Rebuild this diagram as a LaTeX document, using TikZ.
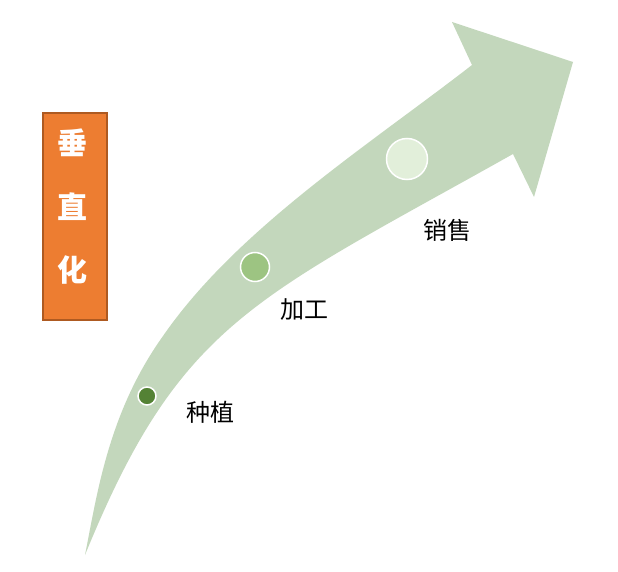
\documentclass[tikz,border=0pt]{standalone}
\usepackage{fontspec}
\newfontfamily\cjk{Noto Sans CJK SC}
\usepackage{tikz}
\usetikzlibrary{positioning}
\definecolor{arrowgreen}{RGB}{195,215,188}
\definecolor{darkgreen}{RGB}{84,130,53}
\definecolor{midgreen}{RGB}{157,196,130}
\definecolor{palegreen}{RGB}{226,239,218}
\definecolor{boxorange}{RGB}{237,125,49}
\definecolor{boxedge}{RGB}{174,90,33}
\tikzset{
  stage/.style={draw=white, line width=1.5pt},
  stagelabel/.style={font=\cjk\fontsize{24}{28}\selectfont, text=black, inner sep=0pt},
  vchar/.style={font=\cjk\bfseries\fontsize{30}{34}\selectfont, text=white, inner sep=0pt}
}

\begin{document}
\begin{tikzpicture}[x=1pt, y=-1pt]

  \useasboundingbox (0,0) rectangle (618,572);

  % curved arrow
  \coordinate (tail) at (85,555);
  \coordinate (tip) at (573,62);
  \fill[arrowgreen] (tail) .. controls (97,495) and (108,413) .. (163,336)
    .. controls (237,229) and (369,145) .. (472,65)
    -- (452,22) -- (tip) -- (534,197) -- (513,154)
    .. controls (253,300) and (180,322) .. (tail) -- cycle;

  % stages
  \draw[stage, fill=darkgreen] (147,396) circle (9);
  \draw[stage, fill=midgreen] (255,267) circle (14.5);
  \draw[stage, fill=palegreen] (407,159) circle (20.5);

  \node[stagelabel] (plant) at (210,412) {种植};
  \node[stagelabel] (process) at (304,310) {加工};
  \node[stagelabel] (sell) at (447,230) {销售};

  % vertical box
  \draw[fill=boxorange, draw=boxedge, line width=1.5pt] (43,113) rectangle (107,320);
  \node[vchar] (c1) at (72,143) {垂};
  \node[vchar] (c2) at (72,207) {直};
  \node[vchar] (c3) at (72,270) {化};

\end{tikzpicture}
\end{document}
